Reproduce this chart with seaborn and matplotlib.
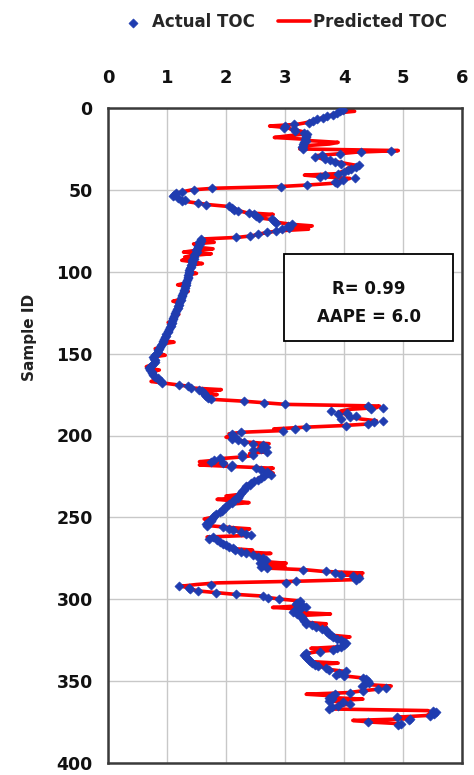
import matplotlib
matplotlib.use("Agg")
import matplotlib.pyplot as plt
import pandas as pd
import seaborn as sns
from matplotlib.patches import Rectangle

# ---------------- data ----------------
actual_toc = [
    3.98, 3.94, 3.88, 3.82, 3.72, 3.65, 3.55, 3.47, 3.40, 3.15,
    3.00, 2.98, 3.15, 3.17, 3.32, 3.38, 3.36, 3.35, 3.34, 3.36,
    3.33, 3.31, 3.30, 3.28, 3.30, 4.79, 4.29, 3.94, 3.62, 3.51,
    3.68, 3.76, 3.84, 3.95, 4.25, 4.20, 4.12, 4.07, 4.00, 3.90,
    3.68, 3.59, 4.19, 3.98, 3.85, 3.88, 3.38, 2.93, 1.77, 1.45,
    1.26, 1.15, 1.12, 1.10, 1.18, 1.30, 1.26, 1.52, 1.66, 2.05,
    2.10, 2.14, 2.20, 2.39, 2.47, 2.50, 2.56, 2.78, 2.82, 2.85,
    3.12, 3.05, 3.06, 2.95, 2.85, 2.70, 2.54, 2.41, 2.17, 1.58,
    1.57, 1.55, 1.56, 1.52, 1.53, 1.50, 1.49, 1.50, 1.47, 1.46,
    1.45, 1.45, 1.43, 1.42, 1.42, 1.41, 1.40, 1.39, 1.38, 1.37,
    1.37, 1.36, 1.35, 1.35, 1.34, 1.33, 1.33, 1.32, 1.31, 1.30,
    1.29, 1.29, 1.27, 1.26, 1.26, 1.24, 1.23, 1.22, 1.21, 1.20,
    1.19, 1.18, 1.17, 1.15, 1.14, 1.13, 1.12, 1.11, 1.10, 1.09,
    1.08, 1.07, 1.06, 1.05, 1.03, 1.02, 1.01, 0.99, 0.98, 0.97,
    0.95, 0.94, 0.93, 0.91, 0.90, 0.88, 0.87, 0.85, 0.84, 0.82,
    0.79, 0.77, 0.78, 0.80, 0.79, 0.78, 0.75, 0.71, 0.69, 0.72,
    0.74, 0.75, 0.77, 0.80, 0.84, 0.86, 0.90, 0.92, 1.21, 1.35,
    1.40, 1.54, 1.60, 1.62, 1.64, 1.66, 1.69, 1.75, 2.30, 2.64,
    3.00, 4.40, 4.66, 4.45, 3.78, 4.05, 3.90, 4.20, 4.10, 3.95,
    4.66, 4.50, 4.40, 4.04, 3.36, 3.17, 2.96, 2.26, 2.10, 2.12,
    2.15, 2.10, 2.20, 2.30, 2.45, 2.62, 2.67, 2.60, 2.45, 2.70,
    2.27, 2.45, 2.27, 1.90, 1.80, 1.75, 1.95, 2.10, 2.08, 2.50,
    2.60, 2.70, 2.72, 2.76, 2.65, 2.60, 2.55, 2.48, 2.42, 2.40,
    2.34, 2.32, 2.30, 2.27, 2.25, 2.24, 2.22, 2.20, 2.16, 2.12,
    2.10, 2.05, 2.00, 1.98, 1.95, 1.93, 1.90, 1.83, 1.80, 1.78,
    1.76, 1.74, 1.70, 1.66, 1.68, 1.95, 2.05, 2.12, 2.25, 2.34,
    2.42, 1.78, 1.72, 1.85, 1.90, 1.95, 2.00, 2.05, 2.12, 2.15,
    2.25, 2.34, 2.45, 2.55, 2.62, 2.68, 2.62, 2.58, 2.62, 2.60,
    2.70, 3.30, 3.70, 3.85, 3.95, 4.15, 4.26, 4.20, 3.19, 3.02,
    1.75, 1.21, 1.37, 1.39, 1.53, 1.83, 2.17, 2.62, 2.71, 2.90,
    3.25, 3.20, 3.19, 3.30, 3.36, 3.25, 3.15, 3.13, 3.20, 3.25,
    3.28, 3.30, 3.32, 3.35, 3.36, 3.45, 3.53, 3.62, 3.70, 3.72,
    3.75, 3.78, 3.81, 3.88, 3.95, 4.00, 4.04, 4.00, 3.95, 3.88,
    3.81, 3.60, 3.35, 3.33, 3.36, 3.38, 3.40, 3.42, 3.45, 3.50,
    3.56, 3.70, 3.75, 4.04, 3.92, 3.87, 4.00, 4.32, 4.38, 4.40,
    4.42, 4.35, 4.30, 4.71, 4.57, 4.32, 4.10, 3.84, 3.80, 3.75,
    3.80, 3.75, 3.98, 4.10, 3.90, 3.80, 3.75, 5.50, 5.56, 5.52,
    5.45, 4.89, 5.12, 5.10, 4.40, 4.97, 4.92,
]

predicted_toc = [
    4.05, 4.18, 3.90, 3.80, 3.75, 3.62, 3.58, 3.45, 3.35, 3.20,
    2.74, 3.05, 3.10, 3.25, 3.35, 3.30, 3.05, 2.82, 3.30, 3.45,
    3.90, 3.75, 3.35, 3.30, 3.25, 4.92, 4.20, 3.90, 3.55, 3.55,
    3.62, 3.80, 3.90, 4.05, 4.20, 4.15, 4.05, 4.10, 3.95, 3.95,
    3.33, 3.65, 4.10, 4.00, 3.90, 3.80, 3.40, 2.90, 1.80, 1.42,
    1.28, 1.18, 1.15, 1.12, 1.20, 1.28, 1.30, 1.50, 1.70, 2.00,
    2.12, 2.18, 2.25, 2.35, 2.80, 2.52, 2.55, 2.75, 2.85, 2.90,
    3.10, 3.46, 3.10, 3.40, 2.88, 2.72, 2.55, 2.45, 2.20, 1.60,
    1.55, 1.80, 1.45, 1.55, 1.50, 1.78, 1.48, 1.28, 1.75, 1.45,
    1.30, 1.48, 1.25, 1.45, 1.60, 1.40, 1.42, 1.36, 1.40, 1.36,
    1.50, 1.35, 1.36, 1.33, 1.36, 1.32, 1.30, 1.18, 1.33, 1.30,
    1.30, 1.36, 1.26, 1.28, 1.25, 1.26, 1.22, 1.10, 1.22, 1.21,
    1.18, 1.20, 1.16, 1.17, 1.13, 1.20, 1.11, 1.12, 1.09, 1.10,
    1.02, 1.08, 1.05, 1.06, 1.04, 1.01, 1.03, 0.98, 0.99, 0.96,
    0.96, 0.93, 1.12, 0.92, 0.89, 0.89, 0.80, 0.86, 0.83, 0.83,
    0.97, 0.76, 0.79, 0.78, 0.80, 0.77, 0.72, 0.65, 0.70, 0.87,
    0.73, 0.76, 0.76, 0.82, 0.83, 0.85, 0.73, 0.95, 1.18, 1.38,
    1.42, 1.92, 1.58, 1.65, 1.85, 1.63, 1.70, 1.80, 2.28, 2.66,
    3.02, 4.60, 4.55, 4.10, 3.95, 3.90, 4.05, 4.05, 4.15, 4.30,
    4.55, 4.45, 4.40, 3.95, 3.30, 2.81, 2.96, 2.28, 2.05, 2.15,
    2.00, 2.15, 2.25, 2.35, 2.73, 2.55, 2.70, 2.55, 2.50, 2.65,
    2.40, 2.50, 2.30, 1.95, 1.85, 1.55, 2.00, 1.55, 2.15, 2.80,
    2.55, 2.75, 2.80, 2.70, 2.68, 2.55, 2.58, 2.45, 2.45, 2.35,
    2.36, 2.30, 2.32, 2.25, 2.27, 2.22, 2.00, 2.22, 1.85, 2.14,
    2.39, 2.05, 2.02, 1.96, 1.97, 1.92, 1.92, 1.85, 1.82, 1.76,
    1.63, 1.75, 1.72, 1.68, 1.70, 2.00, 2.40, 2.15, 2.28, 2.35,
    2.40, 1.68, 1.75, 1.85, 1.92, 1.98, 2.02, 2.08, 2.10, 2.45,
    2.28, 2.76, 2.45, 2.58, 2.60, 2.70, 2.65, 3.02, 2.60, 3.00,
    2.72, 3.35, 3.65, 4.32, 3.95, 4.30, 4.25, 4.22, 3.20, 1.85,
    1.50, 1.25, 1.35, 1.42, 1.55, 1.85, 2.15, 2.60, 2.72, 2.95,
    3.25, 3.22, 3.20, 3.28, 2.79, 3.30, 3.15, 3.20, 3.77, 3.22,
    3.30, 3.28, 3.34, 3.33, 3.70, 3.50, 3.70, 3.60, 3.72, 3.70,
    3.78, 3.80, 4.10, 3.85, 3.97, 3.98, 4.06, 4.02, 3.93, 3.44,
    3.85, 3.55, 3.38, 3.30, 3.40, 3.36, 3.42, 3.40, 3.90, 3.52,
    3.58, 3.72, 3.78, 4.00, 3.95, 3.90, 4.05, 4.30, 4.40, 4.38,
    4.45, 4.33, 4.80, 4.68, 4.55, 4.30, 4.08, 3.36, 3.82, 3.78,
    4.32, 3.78, 3.95, 4.12, 3.88, 3.82, 3.78, 5.42, 5.50, 5.45,
    5.40, 4.90, 5.10, 4.15, 4.45, 4.95, 4.90,
]

sample_id = list(range(1, len(actual_toc) + 1))
x_ticks = [0, 1, 2, 3, 4, 5, 6]
y_ticks = [0, 50, 100, 150, 200, 250, 300, 350, 400]
series_labels = ["Actual TOC", "Predicted TOC"]
stats_lines = ["R= 0.99", "AAPE = 6.0"]
y_label = "Sample ID"

df = pd.DataFrame({"sample": sample_id, "actual": actual_toc, "predicted": predicted_toc})

# ---------------- figure ----------------
sns.set_theme(style="white")
plt.rcParams["font.family"] = ["DejaVu Sans"]

W, H = 474, 775
fig = plt.figure(figsize=(W / 100, H / 100), dpi=100)
ax_bottom = 12
ax_top = 108
ax = fig.add_axes([108 / W, ax_bottom / H, 354 / W, (H - ax_top - ax_bottom) / H])

sns.lineplot(data=df, x="predicted", y="sample", sort=False, estimator=None,
             color="#ff0000", linewidth=2.6, ax=ax, label=series_labels[1], zorder=2)
sns.scatterplot(data=df, x="actual", y="sample", marker="D", s=22,
                color="#1f3cb0", edgecolor="#1f3cb0", linewidth=0.4,
                ax=ax, label=series_labels[0], zorder=3)

ax.set_xlim(0, 6)
ax.set_ylim(400, 0)
ax.set_xticks(x_ticks)
ax.set_yticks(y_ticks)
ax.xaxis.tick_top()
ax.set_xlabel("")
ax.set_ylabel(y_label, fontsize=11, fontweight="bold", color="#222222")
ax.yaxis.set_label_coords(-0.2, 0.65)

ax.tick_params(axis="x", length=0, pad=15, labelsize=13, labelcolor="#111111")
ax.tick_params(axis="y", length=0, pad=11, labelsize=12.5, labelcolor="#111111")
for lab in ax.get_xticklabels() + ax.get_yticklabels():
    lab.set_fontweight("bold")

ax.set_axisbelow(True)
ax.grid(True, color="#c8c8c8", linewidth=1)
for sp in ax.spines.values():
    sp.set_visible(True)
    sp.set_color("#3a3a3a")
    sp.set_linewidth(1.8)

# stats box
ax.add_patch(Rectangle((0.496, 0.644), 0.479, 0.133, transform=ax.transAxes,
                       facecolor="white", edgecolor="black", linewidth=1.3, zorder=5))
ax.text(0.737, 0.723, stats_lines[0], transform=ax.transAxes, ha="center", va="center",
        fontsize=12, fontweight="bold", color="#111111", zorder=6)
ax.text(0.737, 0.681, stats_lines[1], transform=ax.transAxes, ha="center", va="center",
        fontsize=12, fontweight="bold", color="#111111", zorder=6)

# legend at top of figure
handles, labels = ax.get_legend_handles_labels()
ax.get_legend().remove()
order = [labels.index(series_labels[0]), labels.index(series_labels[1])]
fig.legend([handles[i] for i in order], [labels[i] for i in order],
           loc="center", bbox_to_anchor=(0.595, 1 - 22 / H), ncol=2, frameon=False,
           prop={"weight": "bold", "size": 12}, handlelength=1.9, handletextpad=0.2,
           columnspacing=1.4, scatterpoints=1, markerscale=1.0)

fig.savefig("out.png", dpi=100)
